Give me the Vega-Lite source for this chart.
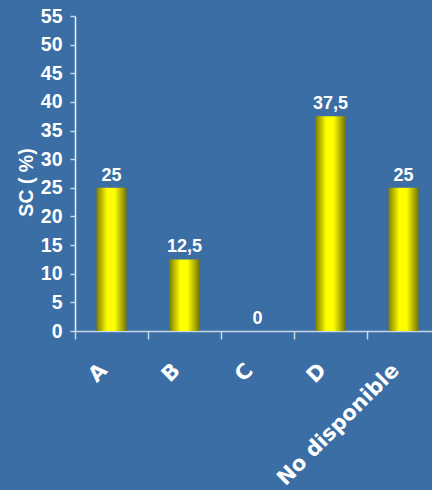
{
  "$schema": "https://vega.github.io/schema/vega-lite/v6.json",
  "autosize": {"type": "none"},
  "padding": {"left": 75, "top": 16, "right": 0, "bottom": 159},
  "width": 365,
  "height": 315,
  "background": "#3a6ea5",
  "config": {
    "view": {"stroke": null},
    "locale": {
      "number": {"decimal": ",", "thousands": ".", "grouping": [3], "currency": ["", " €"]}
    }
  },
  "data": {
    "values": [
      {"categoria": "A", "sc": 25},
      {"categoria": "B", "sc": 12.5},
      {"categoria": "C", "sc": 0},
      {"categoria": "D", "sc": 37.5},
      {"categoria": "No disponible", "sc": 25}
    ]
  },
  "encoding": {
    "x": {
      "field": "categoria",
      "type": "nominal",
      "sort": null,
      "scale": {"paddingInner": 0, "paddingOuter": 0},
      "axis": {
        "title": null,
        "domainColor": "#c8d6e6",
        "domainWidth": 1.5,
        "tickColor": "#c8d6e6",
        "tickWidth": 1.5,
        "tickSize": 8,
        "tickBand": "extent",
        "labelAngle": -45,
        "labelAlign": "right",
        "labelBaseline": "middle",
        "labelOffset": -8,
        "labelPadding": 28,
        "labelColor": "white",
        "labelFont": "DejaVu Sans",
        "labelFontWeight": "bold",
        "labelFontSize": 21,
        "labelLimit": 300,
        "labelOverlap": false
      }
    },
    "y": {
      "field": "sc",
      "type": "quantitative",
      "scale": {"domain": [0, 55], "nice": false},
      "axis": {
        "title": "SC ( %)",
        "values": [0, 5, 10, 15, 20, 25, 30, 35, 40, 45, 50, 55],
        "grid": false,
        "domainColor": "#eef3f8",
        "domainWidth": 1.5,
        "tickColor": "#c8d6e6",
        "tickWidth": 1.5,
        "tickSize": 5,
        "labelColor": "white",
        "labelFont": "Liberation Sans",
        "labelFontWeight": "bold",
        "labelFontSize": 19.5,
        "labelPadding": 8,
        "titleColor": "white",
        "titleFont": "Liberation Sans",
        "titleFontWeight": "bold",
        "titleFontSize": 19.5,
        "titlePadding": 4,
        "titleY": 166
      }
    }
  },
  "layer": [
    {
      "mark": {
        "type": "bar",
        "width": {"band": 0.41},
        "fill": {
          "gradient": "linear",
          "x1": 0, "x2": 1, "y1": 0, "y2": 0,
          "stops": [
            {"offset": 0, "color": "#7f7f00"},
            {"offset": 0.36, "color": "#ffff00"},
            {"offset": 0.6, "color": "#ffff00"},
            {"offset": 1, "color": "#777700"}
          ]
        }
      }
    },
    {
      "mark": {
        "type": "text",
        "baseline": "alphabetic",
        "dy": -7,
        "font": "Liberation Sans",
        "fontWeight": "bold",
        "fontSize": 18,
        "color": "white"
      },
      "encoding": {
        "text": {"field": "sc", "type": "quantitative", "format": ".3~g"}
      }
    }
  ]
}
